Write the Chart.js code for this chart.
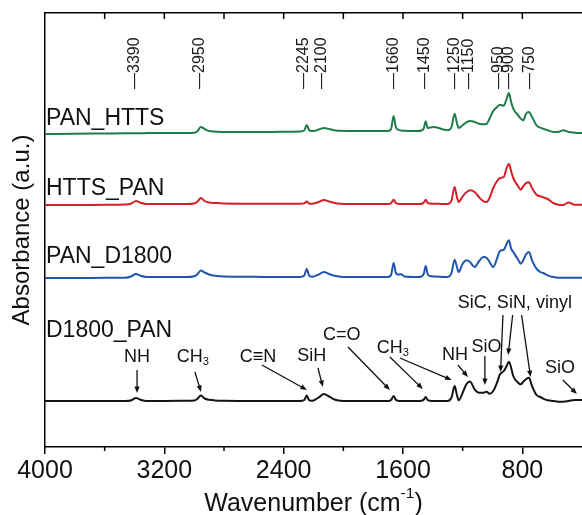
<!DOCTYPE html>
<html>
<head>
<meta charset="utf-8">
<script src="https://cdn.jsdelivr.net/npm/chart.js@4/dist/chart.umd.min.js"></script>
<style>
  html, body { margin: 0; padding: 0; background: #fff; }
  canvas { display: block; }
</style>
</head>
<body>
<canvas id="ftir" width="582" height="515"></canvas>
<script>
// wavenumber grid (cm-1), shared by all four spectra
const wavenumbers = [
  4000, 3800, 3600, 3460, 3420, 3390, 3360, 3320, 3200, 3050,
  3000, 2980, 2955, 2930, 2900, 2860, 2800, 2600, 2400, 2290,
  2262, 2245, 2230, 2212, 2200, 2165, 2130, 2095, 2060, 2020,
  1900, 1780, 1700, 1680, 1663, 1648, 1635, 1612, 1590, 1500,
  1475, 1460, 1448, 1435, 1420, 1390, 1360, 1330, 1300, 1275,
  1254, 1240, 1227, 1200, 1175, 1151, 1120, 1090, 1060, 1040,
  1020, 995, 970, 950, 924, 905, 890, 875, 861, 828,
  810, 794, 775, 756, 735, 705, 680, 660, 630, 593,
  560, 526, 490, 450, 414, 400
];

// absorbance above each trace's own baseline (a.u.)
const panHtts = [
  -3, -2.8, -2.5, -2.3, -2.2, -2.2, -2.2, -2.1, -2, -2,
  -1.8, -0.5, 4, 2, 0, -0.5, -1, -1, -0.8, -0.5,
  0.5, 6, 1, 0, 0, 1.5, 3, 2, 0.8, 0.2,
  0, 0, 0, 2, 15, 4, 1.5, 0.5, 0.2, 0,
  0.5, 3, 9.7, 3, 3.5, 4, 3, 1.5, 0.7, 4,
  17.3, 9, 3, 5.7, 8.7, 10, 9, 7.3, 6.7, 7,
  12.3, 20, 24, 26.3, 25.3, 32.3, 38, 29, 22.3, 15.7,
  12.3, 10.7, 17.3, 19, 14, 5.7, 3.3, 2.3, 0.7, -1,
  -1, 0.7, -1, -1.7, -2, -2
];
const httsPan = [
  -1, -1, -0.8, -0.6, 0.5, 3, 1.2, 0, 0, 0,
  0.5, 2, 6, 3, 1.5, 1, 0.5, 0.3, 0.2, 0.2,
  0.6, 2.5, 0.5, 0.3, 0.5, 2, 4, 2.5, 1, 0.3,
  0, 0, 0, 0.8, 4.3, 1, 0.3, 0, 0, 0,
  0.3, 1.5, 4.3, 1.2, 0.5, 0.3, 0.2, 0, 0, 3.5,
  17, 8, 2, 7.7, 11.7, 13.7, 12, 6.7, 2.7, 2,
  6, 16, 22.7, 26, 27, 36, 40, 32.7, 26, 17.7,
  14.3, 17.7, 21, 21.7, 16, 9.3, 7.7, 6.7, 5, 1,
  -0.7, -1, 1.5, -0.7, -0.7, -0.7
];
const panD1800 = [
  -1, -1, -0.8, -0.7, 0.8, 3, 1.2, 0, 0, 0,
  0.8, 2.5, 6.5, 4.5, 2.5, 1.2, 0.5, 0.2, 0, 0,
  1.5, 8, 1.5, 0.3, 0.5, 2.5, 5, 3, 1.2, 0.3,
  0, 0, 0, 2, 14, 4, 2.5, 2.7, 0.5, 0,
  0.5, 3.5, 11, 3, 1, 0.5, 0.3, 0, 0, 4,
  17.3, 11, 5, 13.3, 16.7, 15, 10, 16, 20, 19.3,
  15, 10, 18.3, 26, 27.3, 33.3, 36.7, 28.3, 25, 17.3,
  13.3, 16.7, 22.7, 25, 16.7, 8.3, 5, 4, 1.7, 0,
  -0.7, -0.7, -0.7, -0.7, -0.7, -0.7
];
const d1800Pan = [
  0, 0, 0, 0, 0.8, 3, 1.3, 0, 0, 0.2,
  0.5, 2, 5.5, 2.5, 1.2, 0.6, 0.3, 0, 0, 0,
  1, 5.5, 1, 0.2, 0.5, 3.5, 7, 4.5, 1.5, 0.3,
  0, 0, 0, 1, 5, 1.2, 0.3, 0, 0, 0,
  0.3, 1.5, 4, 1, 0.3, 0, 0, 0, 0, 3.3,
  15, 7, 0.7, 8.3, 16.7, 19.5, 11.7, 8.3, 8.3, 9.3,
  7.3, 10, 18.3, 26.7, 30, 35, 39.3, 33.3, 25, 18.3,
  16.7, 19.3, 21.7, 23.3, 15, 6, 4, 2.3, 0.7, 0,
  -0.7, -0.7, 0, 1, 1, 1
];

const seriesNames = ['PAN_HTTS', 'HTTS_PAN', 'PAN_D1800', 'D1800_PAN'];
const seriesValues = [panHtts, httsPan, panD1800, d1800Pan];
const stackOffsets = [316, 243, 170, 46];
const seriesColors = ['#1e7d4c', '#d4202a', '#1f55ad', '#141414'];
const nameLevels = [322, 252, 184, 110];

const majorTicks = [4000, 3200, 2400, 1600, 800];
const minorTicks = [3600, 2800, 2000, 1200];
const topTicks = [3600, 3200, 2800, 2400, 2000, 1600, 1200, 800];

// peak markers along the top
const peakLabels = ['3390', '2950', '2245', '2100', '1660', '1450', '1250', '1150', '950', '900', '750'];
const peakLabelAt = [3397, 2961, 2269, 2146, 1666, 1453, 1252, 1163, 962, 890, 749];

// band assignments on the D1800_PAN trace
const bandNames = ['NH', 'CH_3', 'C\u2261N', 'SiH', 'C=O', 'CH_3', 'NH', 'SiO', 'SiC, SiN, vinyl', 'SiO'];
const bandTextAt = [[3383, 90], [3008, 90], [2572, 90], [2212, 91], [2011, 112], [1668, 99], [1252, 92], [1040, 100], [850, 144], [548, 79]];
const bandArrows = [
  [3383, 77, 3383, 54], [2995, 75, 2954, 55], [2546, 82, 2244, 57], [2170, 79, 2137, 60],
  [1969, 100, 1688, 57], [1688, 90, 1467, 58], [1621, 89, 1274, 67], [1232, 82, 1165, 70],
  [1051, 91, 1051, 62], [930, 132, 946, 75], [865, 132, 895, 92], [805, 132, 745, 70],
  [528, 67, 434, 53]
];

const FONT = "'Liberation Sans', Arial, sans-serif";

function richText(ctx, text, x, y, size) {
  // "CH_3" -> subscript 3, "cm^-1" -> superscript -1 ; centered at x
  const parts = [];
  const re = /([_^])(-?\d+)/g;
  let last = 0, m;
  while ((m = re.exec(text))) {
    if (m.index > last) parts.push({ t: text.slice(last, m.index), s: size, dy: 0 });
    parts.push({ t: m[2], s: size * 0.62, dy: m[1] === '_' ? size * 0.28 : -size * 0.42 });
    last = re.lastIndex;
  }
  if (last < text.length) parts.push({ t: text.slice(last), s: size, dy: 0 });
  let w = 0;
  parts.forEach(p => { ctx.font = p.s + 'px ' + FONT; p.w = ctx.measureText(p.t).width; w += p.w; });
  let cx = x - w / 2;
  ctx.textAlign = 'left';
  ctx.textBaseline = 'middle';
  parts.forEach(p => {
    ctx.font = p.s + 'px ' + FONT;
    ctx.fillText(p.t, cx, y + p.dy);
    cx += p.w;
  });
}

function arrow(ctx, x1, y1, x2, y2) {
  const a = Math.atan2(y2 - y1, x2 - x1);
  const head = 7;
  ctx.beginPath();
  ctx.moveTo(x1, y1);
  ctx.lineTo(x2 - head * 0.8 * Math.cos(a), y2 - head * 0.8 * Math.sin(a));
  ctx.stroke();
  ctx.beginPath();
  ctx.moveTo(x2, y2);
  ctx.lineTo(x2 - head * Math.cos(a - 0.38), y2 - head * Math.sin(a - 0.38));
  ctx.lineTo(x2 - head * Math.cos(a + 0.38), y2 - head * Math.sin(a + 0.38));
  ctx.closePath();
  ctx.fill();
}

const decorations = {
  id: 'decorations',
  afterDraw(chart) {
    const ctx = chart.ctx;
    const xs = chart.scales.x, ys = chart.scales.y;
    const area = chart.chartArea;
    ctx.save();
    ctx.strokeStyle = '#000';
    ctx.fillStyle = '#000';

    // minor ticks on the bottom axis, inward ticks along the top
    ctx.lineWidth = 1.5;
    ctx.beginPath();
    minorTicks.forEach(v => {
      const px = xs.getPixelForValue(v);
      ctx.moveTo(px, area.bottom);
      ctx.lineTo(px, area.bottom + 4);
    });
    topTicks.forEach(v => {
      const px = xs.getPixelForValue(v);
      ctx.moveTo(px, area.top);
      ctx.lineTo(px, area.top + 6);
    });
    ctx.stroke();

    // rotated peak positions
    ctx.fillStyle = '#1a1a1a';
    ctx.font = '16px ' + FONT;
    ctx.textAlign = 'left';
    ctx.textBaseline = 'middle';
    peakLabels.forEach((t, i) => {
      ctx.save();
      ctx.translate(xs.getPixelForValue(peakLabelAt[i]), area.top + 76);
      ctx.rotate(-Math.PI / 2);
      ctx.fillText('\u2014' + t, 0, 0);
      ctx.restore();
    });

    // trace names
    ctx.fillStyle = '#111';
    ctx.font = '23px ' + FONT;
    ctx.textBaseline = 'alphabetic';
    seriesNames.forEach((n, i) => {
      ctx.fillText(n, area.left + 1, ys.getPixelForValue(nameLevels[i]));
    });

    // band labels and arrows
    ctx.fillStyle = '#111';
    bandNames.forEach((n, i) => {
      richText(ctx, n, xs.getPixelForValue(bandTextAt[i][0]), ys.getPixelForValue(bandTextAt[i][1]), 18);
    });
    ctx.strokeStyle = '#111';
    ctx.lineWidth = 1.3;
    bandArrows.forEach(a => {
      arrow(ctx, xs.getPixelForValue(a[0]), ys.getPixelForValue(a[1]),
        xs.getPixelForValue(a[2]), ys.getPixelForValue(a[3]));
    });

    // x axis title
    ctx.fillStyle = '#111';
    richText(ctx, 'Wavenumber (cm^-1)', (area.left + area.right) / 2, 504, 25);
    ctx.restore();
  }
};

const datasets = seriesNames.map((name, i) => ({
  label: name,
  data: wavenumbers.map((w, j) => ({ x: w, y: seriesValues[i][j] + stackOffsets[i] })),
  borderColor: seriesColors[i],
  borderWidth: 2,
  pointRadius: 0,
  fill: false,
  cubicInterpolationMode: 'monotone'
}));

new Chart(document.getElementById('ftir'), {
  type: 'line',
  data: { datasets },
  options: {
    responsive: false,
    animation: false,
    devicePixelRatio: 1,
    layout: { padding: 0 },
    plugins: { legend: { display: false }, tooltip: { enabled: false } },
    scales: {
      x: {
        type: 'linear',
        position: 'bottom',
        min: 400,
        max: 4000,
        reverse: true,
        afterBuildTicks: s => { s.ticks = majorTicks.map(v => ({ value: v })); },
        afterFit: s => { s.height = 68; },
        ticks: {
          callback: v => String(v),
          font: { size: 25, family: FONT },
          color: '#111',
          padding: 2,
          maxRotation: 0,
          autoSkip: false
        },
        grid: { drawOnChartArea: false, drawTicks: true, tickLength: 7, color: '#000', lineWidth: 1.5 },
        border: { display: true, color: '#000', width: 1.5 }
      },
      xTop: {
        type: 'linear',
        position: 'top',
        min: 400,
        max: 4000,
        reverse: true,
        afterFit: s => { s.height = 13; },
        ticks: { display: false },
        grid: { display: false, drawTicks: false },
        border: { display: true, color: '#000', width: 1.5 }
      },
      y: {
        min: 0,
        max: 434,
        afterFit: s => { s.width = 45; },
        ticks: { display: false },
        grid: { display: false, drawTicks: false },
        border: { display: true, color: '#000', width: 1.5 },
        title: {
          display: true,
          text: 'Absorbance (a.u.)',
          color: '#111',
          font: { size: 24, family: FONT },
          padding: { top: 8, bottom: 0 }
        }
      }
    }
  },
  plugins: [decorations]
});
</script>
</body>
</html>
